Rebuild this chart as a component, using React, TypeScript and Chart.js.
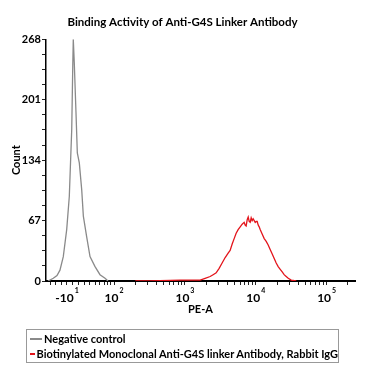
import React, { useEffect, useRef } from 'react';
import { Chart, registerables } from 'chart.js';

Chart.register(...registerables);

const TITLE = 'Binding Activity of Anti-G4S Linker Antibody';
const X_TITLE = 'PE-A';
const Y_TITLE = 'Count';
const SERIES_NAMES = ['Negative control', 'Biotinylated Monoclonal Anti-G4S linker Antibody, Rabbit IgG'];
const SERIES_COLORS = ['#8a8a8a', '#e3141b'];

// x positions are in display decades of the biexponential PE-A axis (10^k sits at k)
const NEG_X = [1.068, 1.143, 1.195, 1.237, 1.284, 1.332, 1.369, 1.403, 1.418, 1.425, 1.439, 1.463, 1.482, 1.51, 1.544, 1.567, 1.614, 1.661, 1.732, 1.802, 1.873, 1.915];
const NEG_Y = [0, 3, 6, 12, 27, 57, 94, 168, 240, 268, 242, 187, 142, 131, 101, 72, 49, 27, 16, 7, 3, 0];

const POS_X = [2.3, 2.508, 2.932, 3.215, 3.285, 3.356, 3.398, 3.441, 3.483, 3.525, 3.568, 3.61, 3.638, 3.667, 3.695, 3.723, 3.751, 3.78, 3.808, 3.836, 3.85, 3.864, 3.879, 3.893, 3.907, 3.921, 3.935, 3.949, 3.963, 3.992, 4.006, 4.02, 4.034, 4.048, 4.062, 4.09, 4.119, 4.147, 4.175, 4.203, 4.232, 4.26, 4.288, 4.316, 4.345, 4.373, 4.4, 4.429, 4.458, 4.5, 4.571];
const POS_Y = [0, 0, 1, 1, 3, 5, 7, 9, 14, 20, 26, 31, 34, 41, 47, 53, 57, 60, 63, 65, 62, 61, 68, 71, 66, 65, 70, 67, 69, 65, 66, 66, 62, 60, 57, 52, 47, 44, 40, 35, 30, 25, 20, 16, 13, 10, 7, 5, 3, 1, 0];

const X_MIN = 1.04;
const X_MAX = 5.4;
const X_MAJOR_POS = [1.336, 2, 3, 4, 5];
const X_MAJOR_BASE = ['-10', '10', '10', '10', '10'];
const X_MAJOR_EXP = ['1', '2', '3', '4', '5'];
const X_LOW_MINOR = [1.1, 1.18, 1.26, 1.42, 1.5, 1.58, 1.66, 1.74, 1.8, 1.86, 1.91, 1.95];
const LOG_MANTISSA = [0.301, 0.477, 0.602, 0.699, 0.778, 0.845, 0.903, 0.954];

const Y_MAX = 268;
const Y_MAJOR = [0, 67, 134, 201, 268];
const Y_MINOR_PER_MAJOR = 4;

const FONT = 'Lato, "Open Sans", sans-serif';

export default function App() {
  const ref = useRef<HTMLCanvasElement | null>(null);

  useEffect(() => {
    document.body.style.margin = '0';
    const canvas = ref.current;
    if (!canvas) return;

    const xTicks: number[] = [...X_MAJOR_POS, ...X_LOW_MINOR];
    [2, 3, 4, 5].forEach((k) => LOG_MANTISSA.forEach((m) => { if (k + m <= X_MAX) xTicks.push(k + m); }));
    xTicks.sort((a, b) => a - b);

    const yStep = Y_MAJOR[1] / Y_MINOR_PER_MAJOR;
    const yTicks: number[] = [];
    for (let i = 0; i <= (Y_MAJOR.length - 1) * Y_MINOR_PER_MAJOR; i++) yTicks.push(i * yStep);

    const xLabelPlugin = {
      id: 'xLabels',
      afterDraw(chart: any) {
        const sc = chart.scales.x;
        const ctx = chart.ctx;
        ctx.save();
        ctx.fillStyle = '#000';
        ctx.textBaseline = 'alphabetic';
        X_MAJOR_POS.forEach((p, i) => {
          const px = sc.getPixelForValue(p);
          ctx.font = `bold 12px ${FONT}`;
          const bw = ctx.measureText(X_MAJOR_BASE[i]).width;
          ctx.font = `bold 7px ${FONT}`;
          const ew = ctx.measureText(X_MAJOR_EXP[i]).width;
          const start = px - (bw + ew + 1) / 2;
          ctx.font = `bold 12px ${FONT}`;
          ctx.textAlign = 'left';
          ctx.fillText(X_MAJOR_BASE[i], start, sc.top + 21);
          ctx.font = `bold 7px ${FONT}`;
          ctx.fillText(X_MAJOR_EXP[i], start + bw + 1, sc.top + 12);
        });
        ctx.restore();
      },
    };

    const chart = new Chart(canvas, {
      type: 'line',
      data: {
        datasets: [
          {
            label: SERIES_NAMES[0],
            data: NEG_X.map((x, i) => ({ x, y: NEG_Y[i] })),
            borderColor: SERIES_COLORS[0],
            borderWidth: 1.3,
            pointRadius: 0,
            tension: 0,
          },
          {
            label: SERIES_NAMES[1],
            data: POS_X.map((x, i) => ({ x, y: POS_Y[i] })),
            borderColor: SERIES_COLORS[1],
            borderWidth: 1.3,
            pointRadius: 0,
            tension: 0,
          },
        ],
      },
      options: {
        animation: false,
        responsive: false,
        devicePixelRatio: 1,
        layout: { padding: { left: 10, right: 23, top: 0, bottom: 60 } },
        plugins: {
          legend: { display: false },
          tooltip: { enabled: false },
          title: {
            display: true,
            text: TITLE,
            color: '#000',
            font: { family: FONT, size: 11.5, weight: 'bold' },
            padding: { top: 15, bottom: 10.5 },
          },
        },
        scales: {
          x: {
            type: 'linear',
            min: X_MIN,
            max: X_MAX,
            afterBuildTicks: (s: any) => { s.ticks = xTicks.map((v) => ({ value: v })); },
            afterFit: (s: any) => { s.height = 36; },
            ticks: { display: false },
            grid: { display: true, drawOnChartArea: false, drawTicks: true, tickLength: 4, tickColor: '#222', tickWidth: 1 },
            border: { display: true, color: '#000', width: 2 },
            title: { display: true, text: X_TITLE, color: '#000', font: { family: FONT, size: 11, weight: 'bold' }, padding: { top: 0, bottom: 1 } },
          },
          y: {
            type: 'linear',
            min: 0,
            max: Y_MAX,
            afterBuildTicks: (s: any) => { s.ticks = yTicks.map((v) => ({ value: v })); },
            afterFit: (s: any) => { s.width = 36; },
            ticks: {
              autoSkip: false,
              padding: 1,
              color: '#000',
              font: { family: FONT, size: 11, weight: 'bold' },
              callback: (v: any) => (Y_MAJOR.includes(Number(v)) ? String(v) : ''),
            },
            grid: { display: true, drawOnChartArea: false, drawTicks: true, tickLength: 4, tickColor: '#222', tickWidth: 1 },
            border: { display: true, color: '#000', width: 1.5 },
            title: { display: true, text: Y_TITLE, color: '#000', font: { family: FONT, size: 11, weight: 'bold' }, padding: { top: 0, bottom: 0 } },
          },
        },
      },
      plugins: [xLabelPlugin],
    } as any);

    return () => chart.destroy();
  }, []);

  return (
    <div style={{ position: 'relative', width: 378, height: 377, background: '#fff' }}>
      <canvas ref={ref} width={378} height={377} style={{ display: 'block' }} />
      <div
        style={{
          position: 'absolute',
          left: 26,
          top: 329,
          width: 311,
          height: 31,
          border: '1px solid #999',
          fontFamily: FONT,
          fontWeight: 'bold',
          fontSize: 11,
          lineHeight: '15px',
          color: '#000',
          paddingTop: 1,
        }}
      >
        {SERIES_NAMES.map((name, i) => (
          <div key={name} style={{ display: 'flex', alignItems: 'center', whiteSpace: 'nowrap' }}>
            <span style={{ display: 'inline-block', width: 12, height: 0, borderTop: `2px solid ${SERIES_COLORS[i]}`, marginLeft: 3, marginRight: 2 }} />
            <span>{name}</span>
          </div>
        ))}
      </div>
    </div>
  );
}
